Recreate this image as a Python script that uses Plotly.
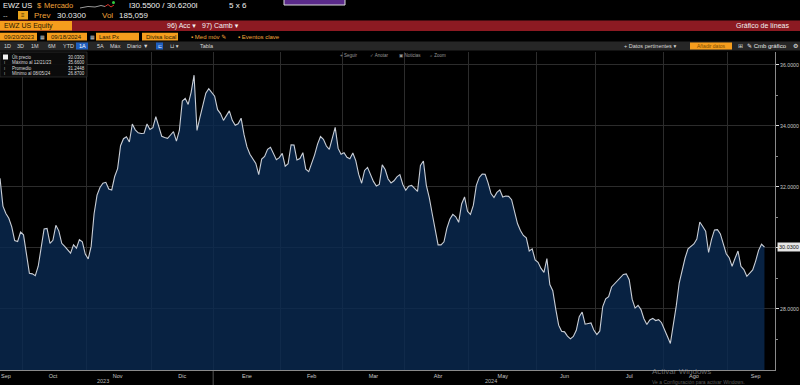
import pandas as pd
import plotly.graph_objects as go

# ---------------- data (EWZ US, last price, trading days) ----------------
sep_2023 = [32.28, 31.37, 31.13, 30.97, 30.69, 30.24, 30.21, 30.52]
oct_2023 = [30.43, 29.80, 29.17, 29.15, 29.09, 29.40, 29.95, 30.62, 30.64, 30.15, 30.25,
            30.74, 30.56, 30.15, 30.05, 29.95, 29.83, 30.10, 29.99, 30.27, 30.20, 29.80]
nov_2023 = [29.64, 30.05, 31.12, 31.73, 31.98, 32.12, 32.15, 31.93, 31.90, 32.34, 32.60,
            33.35, 33.58, 33.64, 33.47, 34.06, 33.87, 33.77, 33.75, 33.76, 34.06, 33.88]
dec_2023 = [33.94, 34.30, 33.95, 33.66, 33.62, 33.59, 33.70, 33.81, 33.50, 33.85, 34.81,
            34.90, 34.70, 35.10, 35.66, 33.85, 34.28, 34.67, 35.07, 35.22, 35.11]
jan_2024 = [34.97, 34.53, 34.40, 34.18, 34.36, 34.49, 34.18, 34.02, 34.07, 34.25, 33.71,
            33.31, 33.07, 32.92, 32.77, 32.40, 32.91, 33.00, 33.23, 33.30, 33.08, 32.89, 32.96]
feb_2024 = [33.10, 32.68, 32.76, 33.38, 33.37, 32.88, 32.93, 33.12, 32.58, 32.50, 32.77,
            33.05, 33.40, 33.65, 33.56, 33.34, 33.23, 33.55, 33.95, 33.26, 33.07]
mar_2024 = [33.12, 32.97, 32.92, 33.11, 32.86, 32.41, 32.12, 32.54, 32.64, 32.43, 32.18,
            32.03, 32.08, 32.72, 32.57, 32.26, 32.13, 32.20, 32.33, 32.40, 32.08]
apr_2024 = [31.89, 32.02, 32.05, 31.95, 31.85, 32.70, 32.85, 32.05, 31.65, 31.12, 30.58,
            30.10, 30.10, 30.20, 30.65, 30.94, 31.10, 31.02, 30.84, 31.44, 31.67, 31.20]
may_2024 = [31.10, 31.40, 32.05, 32.31, 32.42, 32.41, 32.13, 31.78, 31.65, 31.82, 31.90,
            31.67, 31.70, 31.69, 31.58, 31.20, 30.80, 30.57, 30.41, 30.33, 29.90, 29.97, 29.61]
jun_2024 = [29.53, 29.33, 29.20, 29.65, 28.80, 28.60, 28.00, 27.47, 27.27, 27.25, 27.11,
            27.02, 27.10, 27.30, 27.75, 27.90, 27.50, 27.53, 27.54, 27.30]
jul_2024 = [27.16, 27.28, 28.08, 28.33, 28.40, 28.72, 28.83, 28.92, 29.05, 29.13, 29.15,
            28.96, 28.32, 28.03, 28.12, 27.98, 27.68, 27.49, 27.64, 27.69, 27.62, 27.65, 27.55]
aug_2024 = [27.30, 27.10, 26.87, 27.42, 28.10, 28.85, 29.27, 29.67, 29.97, 30.06, 30.13,
            30.29, 30.85, 30.70, 30.55, 29.85, 30.28, 30.59, 30.60, 30.46, 30.12, 29.81]
sep_2024 = [29.68, 29.40, 29.66, 29.90, 29.40, 29.29, 29.07, 29.18, 29.28, 29.57, 29.92,
            30.12, 30.03]

close = (sep_2023 + oct_2023 + nov_2023 + dec_2023 + jan_2024 + feb_2024 + mar_2024 +
         apr_2024 + may_2024 + jun_2024 + jul_2024 + aug_2024 + sep_2024)
dates = pd.bdate_range("2023-09-20", "2024-09-18")
assert len(dates) == len(close), (len(dates), len(close))

month_names = ["Sep", "Oct", "Nov", "Dic", "Ene", "Feb", "Mar", "Abr", "May", "Jun", "Jul", "Ago", "Sep"]
month_label_dates = ["2023-09-22", "2023-10-16", "2023-11-15", "2023-12-15", "2024-01-16",
                     "2024-02-15", "2024-03-15", "2024-04-16", "2024-05-16", "2024-06-14",
                     "2024-07-16", "2024-08-15", "2024-09-13"]
year_labels = ["2023", "2024"]
year_label_dates = ["2023-11-08", "2024-05-10"]
y_major = [28, 30, 32, 34, 36]
y_major_text = ["28.0000", "30.0000", "32.0000", "34.0000", "36.0000"]
y_minor = [27, 29, 31, 33, 35]

legend_rows = [("Últ precio", "30.0300"), ("Máximo al 12/21/23", "35.6600"),
               ("Promedio", "31.2448"), ("Mínimo al 08/05/24", "26.8700")]

# month boundaries (between last trading day of prior month and first of month)
month_starts = pd.date_range("2023-10-01", "2024-09-01", freq="MS")
grid_dates = [pd.bdate_range(m, periods=1)[0] - pd.offsets.BDay(1) + pd.Timedelta(hours=12)
              for m in month_starts]

# ---------------- figure ----------------
W, H = 800, 385
PL, PR, PT, PB = 0, 775, 52, 370
FONT = "Liberation Sans, Arial, DejaVu Sans, sans-serif"


def X(px):
    return (px - PL) / (PR - PL)


def Y(py):
    return (PB - py) / (PB - PT)


fig = go.Figure()
fig.add_trace(go.Scatter(
    x=dates, y=close, mode="lines", fill="tozeroy",
    line=dict(color="#c9ced6", width=1.1),
    fillcolor="rgba(10,41,80,0.82)", hoverinfo="skip", showlegend=False))

shapes = []
annotations = []


def rect(x0, y0, x1, y1, fill, line=None, lw=0.8):
    shapes.append(dict(type="rect", xref="paper", yref="paper",
                       x0=X(x0), x1=X(x1), y0=Y(y1), y1=Y(y0),
                       fillcolor=fill, line=dict(color=line or fill, width=lw if line else 0),
                       layer="above"))


def txt(x, y, s, color="#e6e6e6", size=8, anchor="left"):
    annotations.append(dict(x=X(x), y=Y(y), xref="paper", yref="paper", text=s,
                            showarrow=False, xanchor=anchor, yanchor="middle",
                            font=dict(family=FONT, size=size, color=color)))


ORANGE = "#f59d1d"
AMBER = "#f0a43a"

# row 1
txt(1, 5.5, "EWZ US", "#f2f2f2", 7.5)
txt(35, 5.5, "$", AMBER, 7.5)
txt(42, 5.5, "Mercado", AMBER, 7.5)
shapes.append(dict(type="path", xref="paper", yref="paper",
                   path="M %f %f L %f %f L %f %f L %f %f L %f %f" % (
                       X(80), Y(8), X(88), Y(6.5), X(95), Y(7), X(101), Y(5.5), X(105), Y(6.5)),
                   line=dict(color="#9a9a9a", width=1), layer="above"))
shapes.append(dict(type="path", xref="paper", yref="paper",
                   path="M %f %f L %f %f L %f %f L %f %f" % (
                       X(105), Y(6.5), X(108), Y(4.5), X(111), Y(7), X(114), Y(5)),
                   line=dict(color="#d9342b", width=1), layer="above"))
shapes.append(dict(type="circle", xref="paper", yref="paper",
                   x0=X(112), x1=X(115), y0=Y(4), y1=Y(1),
                   fillcolor="#2ecc40", line=dict(width=0), layer="above"))
txt(127, 5.5, "ǀ30.5500 / 30.6200ǀ", "#f2f2f2", 8)
txt(227, 5.5, "5 x 6", "#f2f2f2", 8)
rect(284, -3, 345, 5, "#5a2a8a", "#dcdcdc", 1)

# row 2
txt(1, 15.5, "--", "#bbbbbb", 7)
rect(18, 11, 28, 19.5, "#e9a31c")
txt(23, 15.3, "≡", "#3a2a00", 6, "center")
txt(32, 15.5, "Prev", AMBER, 8)
txt(55, 15.5, "30.0300", "#e8e8e8", 8)
txt(100, 15.5, "Vol", AMBER, 8)
txt(117, 15.5, "185,059", "#e8e8e8", 8)

# row 3: red bar
rect(0, 20.5, 800, 31, "#8c1a22")
rect(0, 21, 72, 30.5, ORANGE)
txt(1.5, 25.8, "EWZ US Equity", "#2a1a00", 7)
txt(165, 25.8, "96) Acc ▾", "#f2f2f2", 7)
txt(200, 25.8, "97) Camb ▾", "#f2f2f2", 7)
txt(734, 25.8, "Gráfico de líneas", "#f2f2f2", 7)

# row 4: inputs
for (a, b, s) in [(0, 37, "09/20/2023"), (47, 87, "09/18/2024"),
                  (96, 139, "Last Px"), (142, 178, "Divisa local")]:
    rect(a, 32.8, b, 40.6, ORANGE)
    txt(a + 1.5, 36.8, s, "#2a1a00", 6)
txt(38, 36.8, "▦", "#cfcfcf", 5)
txt(88, 36.8, "▦", "#cfcfcf", 5)
txt(189, 36.8, "▪ Med móv ✎", AMBER, 6)
txt(236, 36.8, "▪ Eventos clave", AMBER, 6)

# row 5: toolbar
rect(0, 41.5, 800, 50.5, "#262626")
for (x, s) in [(2, "1D"), (15, "3D"), (29, "1M"), (46, "6M"), (61, "YTD"),
               (95, "5A"), (108, "Máx"), (125, "Diario ▼"), (168, "⊔ ▾"), (198, "Tabla")]:
    txt(x, 46, s, "#d8d8d8", 5.5)
rect(76, 42.5, 88, 49.5, "#1f5fbf")
txt(82, 46, "1A", "#ffffff", 5.5, "center")
rect(156, 42.5, 163, 49.5, "#1f5fbf")
txt(159.5, 46, "⊏", "#ffffff", 5, "center")
txt(622, 46, "+ Datos pertinentes ▾", "#d8d8d8", 5.5)
rect(690, 42.5, 732, 49.5, ORANGE)
txt(711, 46, "Añadir datos", "#7a4a00", 5, "center")
txt(736, 46, "⊞", "#d8d8d8", 6)
txt(745, 46, "✎ Cmb gráfico", "#e8e8e8", 6)
txt(791, 46, "⚙", "#e8e8e8", 6)

# chart toolbar
txt(338, 55, "+ Seguir", "#9a9a9a", 4.5)
txt(368, 55, "✓ Anotar", "#9a9a9a", 4.5)
txt(397, 55, "▣ Noticias", "#9a9a9a", 4.5)
txt(428, 55, "⌕ Zoom", "#9a9a9a", 4.5)

# legend box
rect(0, 52, 87, 77, "rgba(12,12,12,0.92)", "#3a3a3a", 0.6)
rect(3, 54.5, 8, 59.5, "#f0f0f0")
for k, (lab, val) in enumerate(legend_rows):
    yy = 57 + k * 5.5
    if k > 0:
        txt(4.5, yy, "ǀ", "#bdbdbd", 4, "center")
    txt(10, yy, lab, "#dcdcdc", 4.5)
    txt(66, yy, val, "#dcdcdc", 4.5)

# last price tag
annotations.append(dict(x=1.003, y=close[-1], xref="paper", yref="y", text="30.0300",
                        showarrow=False, xanchor="left", yanchor="middle",
                        bgcolor="#e6e6e6", borderpad=1,
                        font=dict(family=FONT, size=5.5, color="#111111")))

# year labels + separator
for yl, yd in zip(year_labels, year_label_dates):
    annotations.append(dict(x=yd, y=Y(381), xref="x", yref="paper", text=yl,
                            showarrow=False, xanchor="center", yanchor="middle",
                            font=dict(family=FONT, size=5.5, color="#b8b8b8")))
shapes.append(dict(type="line", xref="x", yref="paper", x0=grid_dates[3], x1=grid_dates[3],
                   y0=Y(371), y1=Y(385), line=dict(color="#6a6a6a", width=0.8)))

# windows watermark
txt(650, 371, "Activar Windows", "rgba(200,200,200,0.5)", 8)
txt(650, 381.5, "Ve a Configuración para activar Windows.", "rgba(200,200,200,0.45)", 5)

fig.update_layout(
    width=W, height=H,
    margin=dict(l=PL, r=W - PR, t=PT, b=H - PB),
    paper_bgcolor="#000000", plot_bgcolor="#000000",
    showlegend=False,
    shapes=shapes, annotations=annotations,
    font=dict(family=FONT, color="#cccccc"),
    xaxis=dict(
        type="date",
        rangebreaks=[dict(bounds=["sat", "mon"])],
        range=[dates[0], pd.Timestamp("2024-09-23 14:00")],
        tickmode="array", tickvals=month_label_dates, ticktext=month_names,
        ticks="", showgrid=False, zeroline=False,
        tickfont=dict(family=FONT, size=5.5, color="#c8c8c8"),
        showline=True, linecolor="#8a8a8a", linewidth=1,
        minor=dict(tickmode="array", tickvals=grid_dates, showgrid=True,
                   gridcolor="#2c2c2c", gridwidth=1, ticks=""),
        fixedrange=True,
    ),
    yaxis=dict(
        side="right", range=[26.0, 36.42],
        tickmode="array", tickvals=y_major, ticktext=y_major_text,
        ticks="outside", ticklen=3, tickcolor="#e0e0e0", tickwidth=1,
        showgrid=True, gridcolor="#2c2c2c", gridwidth=1, zeroline=False,
        tickfont=dict(family=FONT, size=5.2, color="#c8c8c8"),
        showline=True, linecolor="#8a8a8a", linewidth=1,
        minor=dict(tickmode="array", tickvals=y_minor, ticks="outside", ticklen=2,
                   tickcolor="#8a8a8a", showgrid=False),
        fixedrange=True,
    ),
)

fig.write_html("out.html", config={"displayModeBar": False},
               post_script="document.body.style.margin='0px';document.body.style.overflow='hidden';")
